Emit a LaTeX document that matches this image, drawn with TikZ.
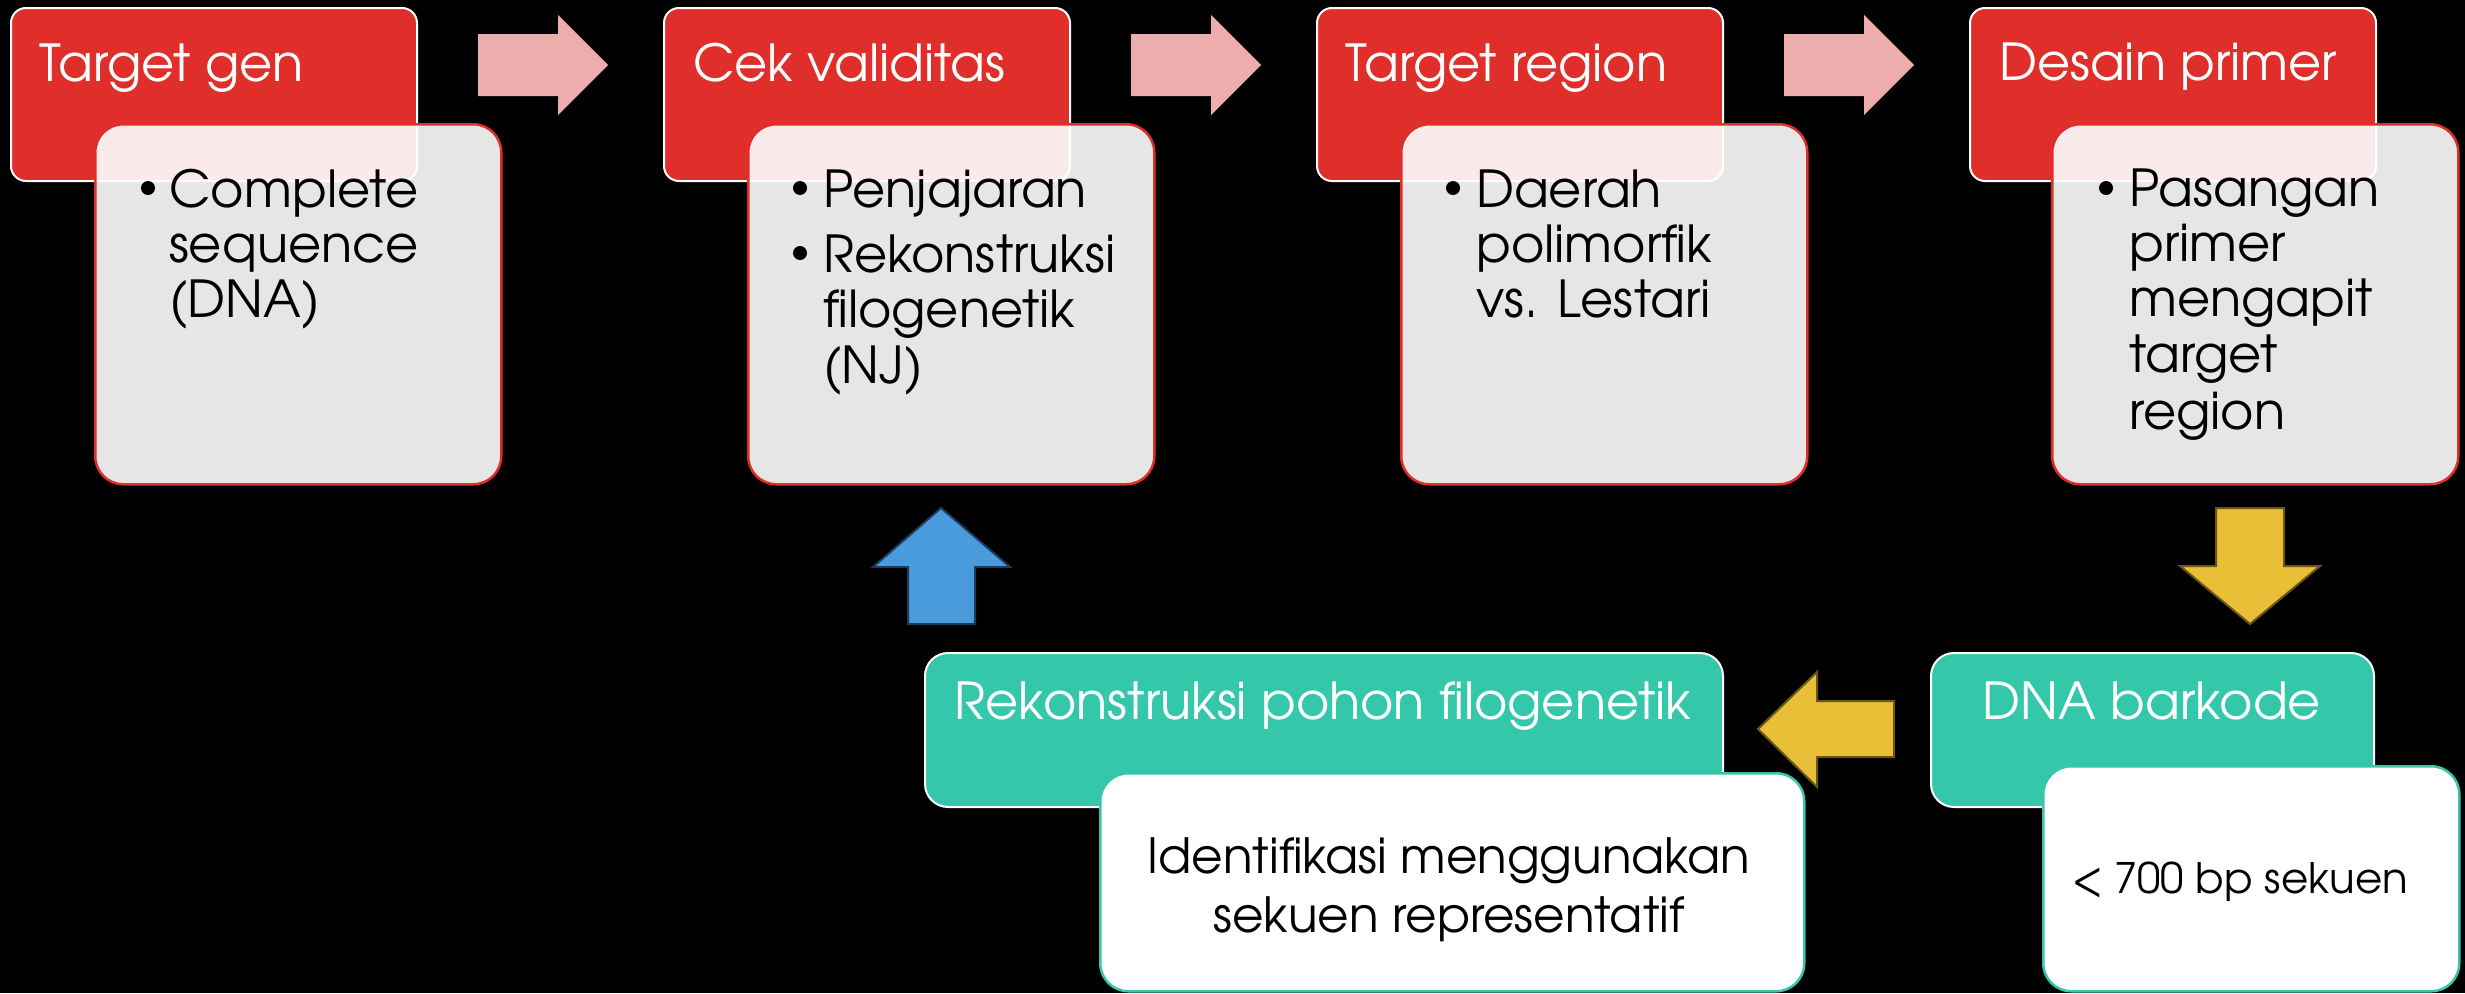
\documentclass[tikz,border=0pt]{standalone}
\usepackage{fontspec}
\setmainfont{texgyreadventor-regular.otf}
\definecolor{cRed}{HTML}{E02E2A}
\definecolor{cPink}{HTML}{EDADAC}
\definecolor{cTeal}{HTML}{35C7AA}
\definecolor{cYel}{HTML}{E8BF36}
\definecolor{cYelD}{HTML}{6B5614}
\definecolor{cBlue}{HTML}{4A9BDC}
\definecolor{cBlueD}{HTML}{1E3A5C}
\newcommand\hdsize{\fontsize{51}{56}\selectfont}
\newcommand\idsize{\fontsize{48.5}{59}\selectfont}
\newcommand\smsize{\fontsize{42}{48}\selectfont}
\tikzset{
  redbox/.style={fill=cRed, draw=white, line width=2pt, rounded corners=15pt, anchor=north west, inner sep=0pt},
  graybox/.style={fill=white, fill opacity=0.9, draw=cRed, line width=2.5pt, rounded corners=28pt, anchor=north west, inner sep=0pt},
  tealbox/.style={fill=cTeal, draw=white, line width=2pt, rounded corners=23pt, anchor=north west, inner sep=0pt},
  whitebox/.style={fill=white, draw=cTeal, line width=2.5pt, rounded corners=28pt, anchor=north west, inner sep=0pt},
  wtxt/.style={text=white, inner sep=0pt, font=\hdsize, anchor=base west},
  btxt/.style={text=black, inner sep=0pt, font=\hdsize, anchor=base west},
  bul/.style={fill=black},
  pinkarrow/.style={fill=cPink},
  yelarrow/.style={fill=cYel, draw=cYelD, line width=2pt, line join=miter},
  bluearrow/.style={fill=cBlue, draw=cBlueD, line width=2pt, line join=miter}
}
\begin{document}
\begin{tikzpicture}[x=1pt,y=-1pt]
\fill[black] (0,0) rectangle (2465,993);
\useasboundingbox (0,0) rectangle (2465,993);

% top row boxes
\foreach \i/\dx/\gx in {1/10/94, 2/663/747, 3/1316/1400, 4/1969/2051}{
  \node[redbox, minimum width=406pt, minimum height=173pt] (r\i) at (\dx,7) {};
  \node[graybox, minimum width=406pt, minimum height=360pt] (g\i) at (\gx,123) {};
}
% pink arrows
\foreach \dx in {0,653,1306}{
  \fill[pinkarrow] ({478+\dx},34) -- ({558+\dx},34) -- ({558+\dx},15) -- ({608+\dx},65)
     -- ({558+\dx},115) -- ({558+\dx},96) -- ({478+\dx},96) -- cycle;
}
% header texts
\node[wtxt] (h1) at (39,81) {Target gen};
\node[wtxt] (h2) at (693,81) {Cek validitas};
\node[wtxt] (h3) at (1345,81) {Target region};
\node[wtxt] (h4) at (1999,80) {Desain primer};

% bullets
\fill[bul] (148,188) circle (7);
\fill[bul] (800,188) circle (7);
\fill[bul] (800,253) circle (7);
\fill[bul] (1453,188) circle (7);
\fill[bul] (2106,188) circle (7);

% box 1
\node[btxt] (l1a) at (169,207) {Complete};
\node[btxt] (l1b) at (169,262) {sequence};
\node[btxt] (l1c) at (169,317) {(DNA)};
% box 2
\node[btxt] (l2a) at (823,207) {Penjajaran};
\node[btxt] (l2b) at (823,272) {Rekonstruksi};
\node[btxt] (l2c) at (823,327) {filogenetik};
\node[btxt] (l2d) at (823,383) {(NJ)};
% box 3
\node[btxt] (l3a) at (1476,207) {Daerah};
\node[btxt] (l3b) at (1476,262) {polimorfik};
\node[btxt] (l3c) at (1476,317) {vs. Lestari};
% box 4
\node[btxt] (l4a) at (2129,206) {Pasangan};
\node[btxt] (l4b) at (2129,261) {primer};
\node[btxt] (l4c) at (2129,316) {mengapit};
\node[btxt] (l4d) at (2129,372) {target};
\node[btxt] (l4e) at (2129,429) {region};

% yellow down arrow
\draw[yelarrow] (2216,508) -- (2284,508) -- (2284,566) -- (2320,566) -- (2250,624)
   -- (2180,566) -- (2216,566) -- cycle;

% bottom boxes
\node[tealbox, minimum width=798pt, minimum height=154pt] (tb1) at (924,652) {};
\node[tealbox, minimum width=443pt, minimum height=154pt] (tb2) at (1930,652) {};
\node[whitebox, minimum width=704pt, minimum height=218pt] (wb1) at (1099,772) {};
\node[whitebox, minimum width=416pt, minimum height=225pt] (wb2) at (2042,765) {};

\node[wtxt, anchor=base] (k1) at (1323,719) {Rekonstruksi pohon filogenetik};
\node[wtxt, anchor=base] (k2) at (2152,719) {DNA barkode};
\node[btxt, anchor=base, font=\idsize] (i1) at (1449,873) {Identifikasi menggunakan};
\node[btxt, anchor=base, font=\idsize] (i2) at (1449,932) {sekuen representatif};
\node[btxt, anchor=base, font=\smsize] (s1) at (2240,893) {< 700 bp sekuen};

% yellow left arrow
\draw[yelarrow] (1894,701) -- (1894,757) -- (1817,757) -- (1817,787) -- (1758,729)
   -- (1817,672) -- (1817,701) -- cycle;
% blue up arrow
\draw[bluearrow] (908,624) -- (975,624) -- (975,567) -- (1010,567) -- (941,508)
   -- (873,567) -- (908,567) -- cycle;
\end{tikzpicture}
\end{document}
